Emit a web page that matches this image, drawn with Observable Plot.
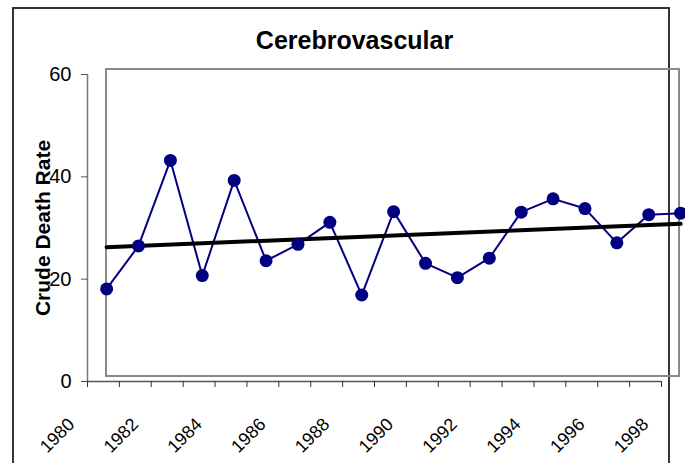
<!DOCTYPE html>
<html>
<head>
<meta charset="utf-8">
<script src="https://cdn.jsdelivr.net/npm/d3@7"></script>
<script src="https://cdn.jsdelivr.net/npm/@observablehq/plot@0.6"></script>
<style>
  html, body { margin: 0; padding: 0; background: #fff; }
  #wrap { position: relative; width: 685px; height: 463px; overflow: hidden; font-family: Arial, "Liberation Sans", sans-serif; }
  #outer { position: absolute; left: 12px; top: 7px; width: 658px; height: 470px; border: 2px solid #333; box-sizing: border-box; }
  #plotbox { position: absolute; left: 105px; top: 68px; width: 575px; height: 309px; border: 2px solid #8a8a8a; box-sizing: border-box; }
  #chart { position: absolute; left: 0; top: 0; }
  #chart svg { background: transparent; }
</style>
</head>
<body>
<div id="wrap">
  <div id="outer"></div>
  <div id="plotbox"></div>
  <div id="chart"></div>
</div>
<script>
// Data
const years = [1980.6, 1981.6, 1982.6, 1983.6, 1984.6, 1985.6, 1986.6, 1987.6, 1988.6, 1989.6,
               1990.6, 1991.6, 1992.6, 1993.6, 1994.6, 1995.6, 1996.6, 1997.6, 1998.6];
const rates = [18.1, 26.5, 43.2, 20.7, 39.3, 23.6, 26.8, 31.1, 16.9, 33.2,
               23.1, 20.3, 24.1, 33.1, 35.7, 33.8, 27.1, 32.6, 32.9];
const tickYears = [1980, 1981, 1982, 1983, 1984, 1985, 1986, 1987, 1988, 1989,
                   1990, 1991, 1992, 1993, 1994, 1995, 1996, 1997, 1998];
const labelYears = [1980, 1982, 1984, 1986, 1988, 1990, 1992, 1994, 1996, 1998];
const yTicks = [0, 20, 40, 60];
const titleText = "Cerebrovascular";
const yLabelText = "Crude Death Rate";

const rows = years.map((year, i) => ({year, rate: rates[i]}));
const navy = "#000080";

const chart = Plot.plot({
  width: 685,
  height: 463,
  marginLeft: 87,
  marginRight: 24,
  marginTop: 74,
  marginBottom: 82,
  style: {background: "transparent", fontFamily: "Arial, 'Liberation Sans', sans-serif", color: "#000"},
  x: {type: "linear", domain: [tickYears[0], tickYears[tickYears.length - 1]], axis: null},
  y: {domain: [yTicks[0], yTicks[yTicks.length - 1]], axis: null},
  marks: [
    Plot.ruleX([tickYears[0]], {y1: yTicks[0], y2: yTicks[yTicks.length - 1], stroke: "#777", strokeWidth: 1.5}),
    Plot.ruleY([yTicks[0]], {x1: tickYears[0], x2: tickYears[tickYears.length - 1], stroke: "#555", strokeWidth: 1.5}),
    Plot.axisY({ticks: yTicks, tickSize: 6, tickPadding: 10, fontSize: 20, label: null, stroke: "#555", fill: "#000"}),
    Plot.axisX({ticks: tickYears, tickSize: 6, tickFormat: () => "", label: null, stroke: "#333"}),
    Plot.text(labelYears, {x: d => d, frameAnchor: "bottom", text: d => String(d), rotate: -45,
      textAnchor: "end", lineAnchor: "bottom", dx: -12, dy: 44, fontSize: 18, fill: "#000"}),
    Plot.line(rows, {x: "year", y: "rate", stroke: navy, strokeWidth: 2}),
    Plot.linearRegressionY(rows, {x: "year", y: "rate", stroke: "#000", strokeWidth: 4, ci: 0}),
    Plot.dot(rows, {x: "year", y: "rate", r: 6.5, fill: navy, stroke: "none"}),
    Plot.text([titleText], {frameAnchor: "top", text: d => d, dx: -20, dy: -26, lineAnchor: "bottom",
      textAnchor: "middle", fontSize: 25, fontWeight: "bold", fill: "#000", style: "letter-spacing:1px"}),
    Plot.text([yLabelText], {frameAnchor: "left", text: d => d, rotate: -90, dx: -44.5, lineAnchor: "middle",
      textAnchor: "middle", fontSize: 21, fontWeight: "bold", fill: "#000"})
  ]
});
document.getElementById("chart").appendChild(chart);
</script>
</body>
</html>
